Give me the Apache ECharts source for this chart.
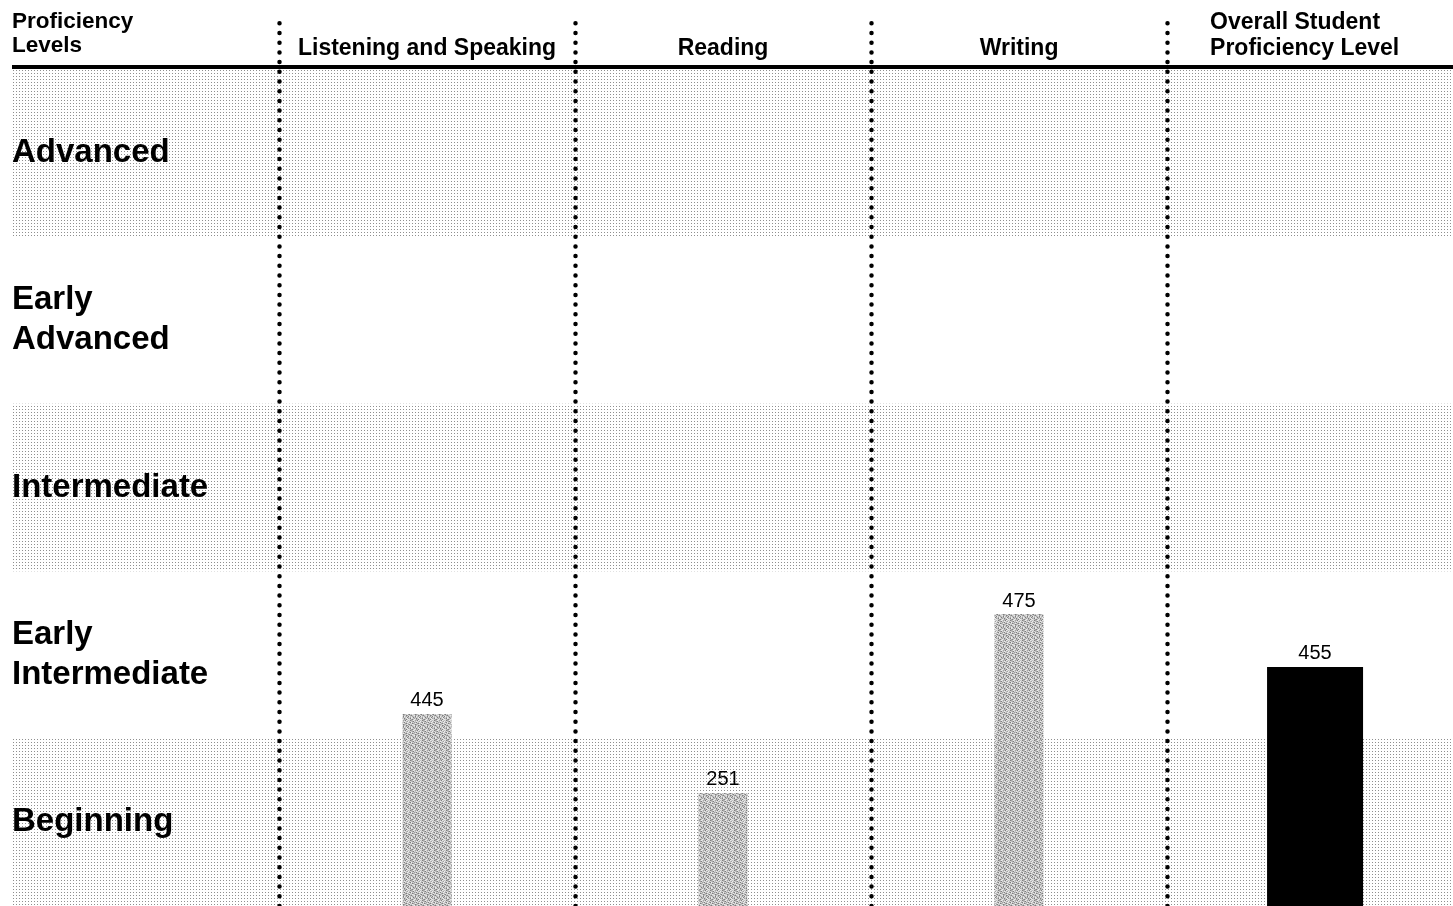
<!DOCTYPE html>
<html>
<head>
<meta charset="utf-8">
<script src="https://cdn.jsdelivr.net/npm/echarts@6/dist/echarts.min.js"></script>
<style>
html,body{margin:0;padding:0;background:#fff;}
#chart{width:1453px;height:906px;}
</style>
</head>
<body>
<div id="chart"></div>
<script>
// ---- data ----
const headerTitle = 'Proficiency\nLevels';
const levelNames = ['Beginning', 'Early\nIntermediate', 'Intermediate', 'Early\nAdvanced', 'Advanced'];
const domains = ['Listening and Speaking', 'Reading', 'Writing', 'Overall Student\nProficiency Level'];
const scaleScores = [445, 251, 475, 455];
// bar height expressed in proficiency-band units (each band = 1)
const levelPositions = [1.147, 0.675, 1.744, 1.428];

// ---- styling helpers ----
const FONT = '"Liberation Sans", Arial, Helvetica, sans-serif';
const X_MIN = -0.902, X_MAX = 3.966, Y_MAX = 5.3274, RULE_Y = 5.015, HEADER_Y = 5.042;

function dotPattern() {
  const c = document.createElement('canvas');
  c.width = 3; c.height = 3;
  const g = c.getContext('2d');
  g.fillStyle = '#ffffff'; g.fillRect(0, 0, 3, 3);
  g.fillStyle = '#8f8f8f'; g.fillRect(1, 1, 1, 1);
  return { image: c, repeat: 'repeat' };
}
function speckPattern() {
  const rows = [
    'bcadbecdbaec',
    'ebcbdacbecbd',
    'cdaebcdbacbe',
    'bebcadbecdab',
    'dacbecbadbce',
    'cbdabcedbcad',
    'aebcdbcaebdc',
    'bcdecabdcbea',
    'dbaecbdcabce',
    'ecbdabecdbac'
  ];
  const pal = { a: '#7e7e7e', b: '#c0c0c0', c: '#d6d6d6', d: '#a2a2a2', e: '#ebebeb' };
  const c = document.createElement('canvas');
  c.width = rows[0].length; c.height = rows.length;
  const g = c.getContext('2d');
  rows.forEach((r, y) => { for (let x = 0; x < r.length; x++) { g.fillStyle = pal[r[x]]; g.fillRect(x, y, 1, 1); } });
  return { image: c, repeat: 'repeat' };
}

const n = domains.length;
const grayData = [];
const blackData = [];
scaleScores.forEach((s, i) => {
  const pt = [i + 0.5, levelPositions[i]];
  if (i < n - 1) grayData.push(pt); else blackData.push(pt);
});

const chart = echarts.init(document.getElementById('chart'), null, { renderer: 'canvas' });
const hiddenX = { type: 'value', min: X_MIN, max: X_MAX, show: false, splitLine: { show: false } };

const valueLabel = {
  show: true, position: 'top', distance: 3, color: '#000',
  fontFamily: FONT, fontSize: 20,
  formatter: p => String(scaleScores[p.data[0] - 0.5])
};

chart.setOption({
  backgroundColor: '#ffffff',
  animation: false,
  title: {
    text: headerTitle, left: 12, top: 10, padding: 0,
    textStyle: { fontFamily: FONT, fontSize: 22.5, fontWeight: 'bold', lineHeight: 24, color: '#000' }
  },
  grid: { left: 12, right: 0, top: 14, bottom: 0, containLabel: false },
  xAxis: [hiddenX, Object.assign({}, hiddenX)],
  yAxis: {
    type: 'value', min: 0, max: Y_MAX, interval: 1,
    axisLine: { show: false }, axisTick: { show: false }, axisLabel: { show: false },
    splitLine: { show: false },
    splitArea: { show: true, areaStyle: { color: [dotPattern(), 'rgba(255,255,255,0)'] } }
  },
  series: [
    {
      name: 'levels', type: 'scatter', xAxisIndex: 0, symbolSize: 0, silent: true,
      itemStyle: { opacity: 1 },
      data: levelNames.map((t, i) => ({ value: [X_MIN, i + 0.5], name: t })),
      label: {
        show: true, position: 'right', distance: 0, formatter: p => p.name,
        fontFamily: FONT, fontSize: 33, fontWeight: 'bold', lineHeight: 40, color: '#000'
      },
      markLine: {
        silent: true, symbol: 'none', label: { show: false },
        data: [
          { yAxis: RULE_Y, lineStyle: { color: '#000', width: 4, type: 'solid' } }
        ]
      }
    },
    {
      name: 'headers', type: 'scatter', xAxisIndex: 0, symbolSize: 0, silent: true,
      itemStyle: { opacity: 1 },
      data: domains.map((t, i) => {
        const item = { value: [i + 0.5, HEADER_Y], name: t };
        if (t.indexOf('\n') >= 0) item.label = { align: 'left', offset: [-105, 0] };
        return item;
      }),
      label: {
        show: true, position: 'top', distance: 0, formatter: p => p.name,
        fontFamily: FONT, fontSize: 23, fontWeight: 'bold', lineHeight: 26, color: '#000'
      },
      markLine: {
        silent: true, symbol: 'none', label: { show: false },
        lineStyle: { color: '#000', width: 4.5, type: [0, 9.7], cap: 'round' },
        data: domains.map((d, i) => ({ xAxis: i }))
      }
    },
    {
      name: 'domain scores', type: 'bar', xAxisIndex: 0, barWidth: 49,
      data: grayData,
      itemStyle: { color: speckPattern() },
      label: valueLabel
    },
    {
      name: 'overall', type: 'bar', xAxisIndex: 1, barWidth: 96,
      data: blackData,
      itemStyle: { color: '#000' },
      label: valueLabel
    }
  ]
});
</script>
</body>
</html>
